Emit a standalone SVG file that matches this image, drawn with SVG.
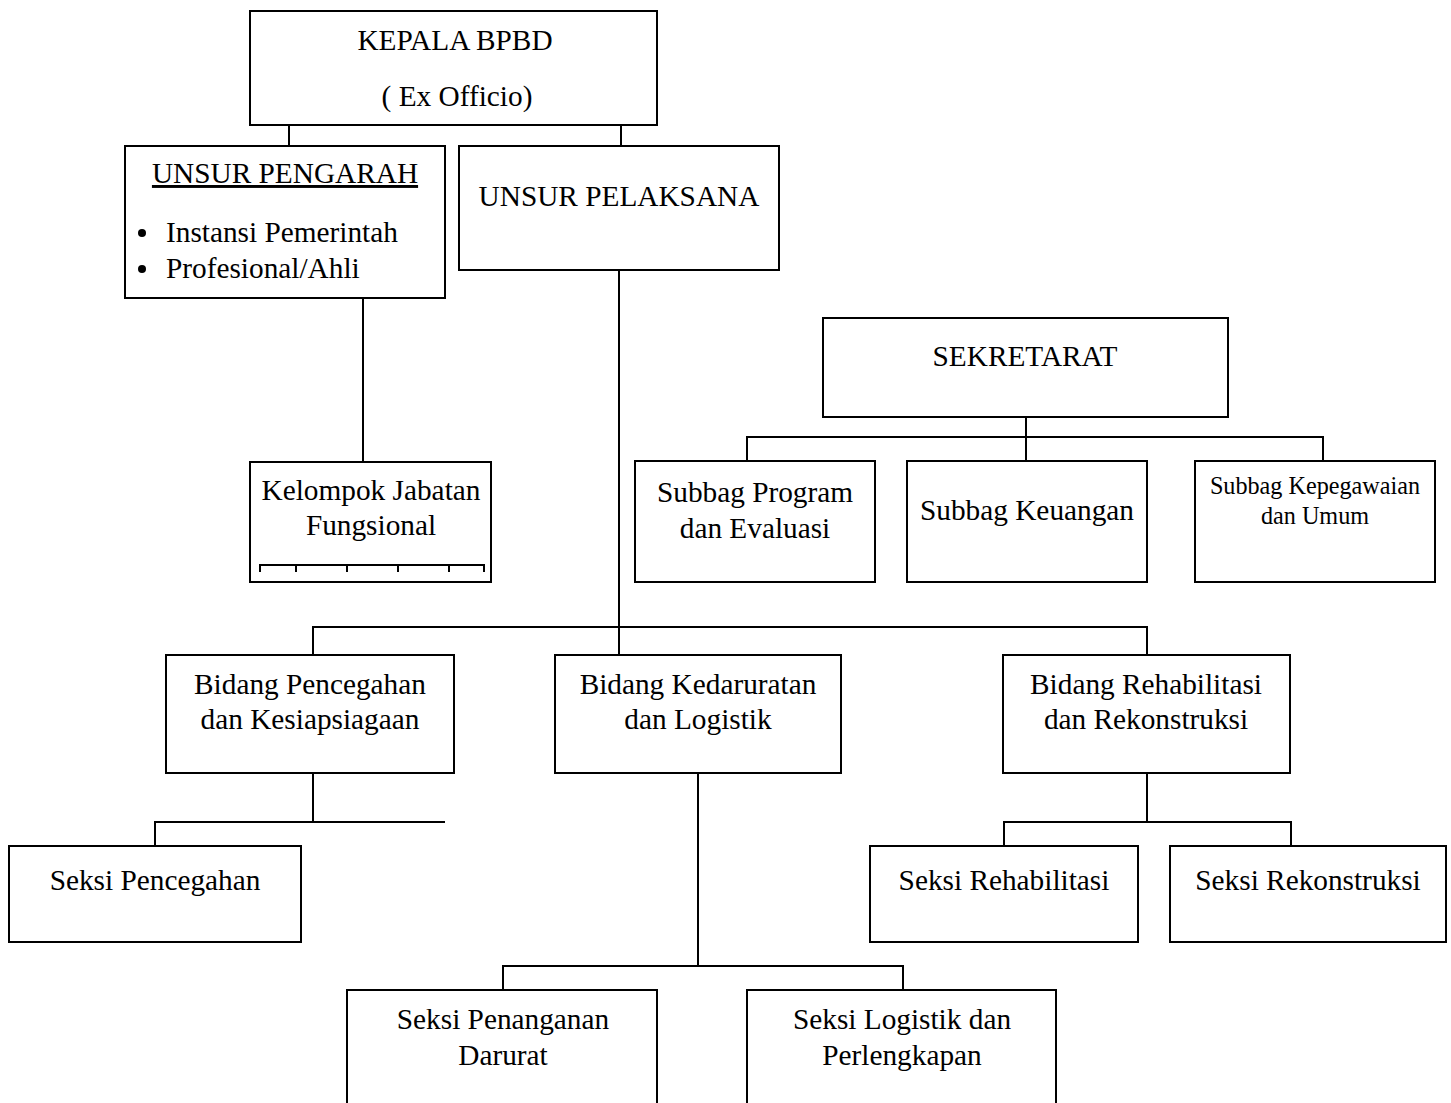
<svg xmlns="http://www.w3.org/2000/svg" width="1451" height="1103" viewBox="0 0 1451 1103">
<style>
.box{fill:#fff;stroke:#000;stroke-width:2}
.ln{fill:none;stroke:#000;stroke-width:2}
text{font-family:"Liberation Serif","Times New Roman",serif;font-size:29.3px;fill:#000;text-anchor:middle}
.sm{font-size:24.2px}
.st{text-anchor:start}
</style>
<rect width="1451" height="1103" fill="#fff"/>
<g id="connectors">
<path class="ln" d="M455 97V125M289 146V125H621V146"/>
<path class="ln" d="M363 298V462"/>
<path class="ln" d="M619 270V655M313 655V627H1147V655"/>
<path class="ln" d="M1026 417V461M747 461V437H1323V461"/>
<path class="ln" d="M313 773V822M155 846V822H445"/>
<path class="ln" d="M698 773V966M503 990V966H903V990"/>
<path class="ln" d="M1147 773V822M1004 846V822H1291V846"/>
</g>
<g id="kepala">
<rect class="box" x="250" y="11" width="407" height="114"/>
<text x="455" y="50">KEPALA BPBD</text>
<text x="457" y="106">( Ex Officio)</text>
</g>
<g id="unsur-pengarah">
<rect class="box" x="125" y="146" width="320" height="152"/>
<text x="285" y="183" text-decoration="underline">UNSUR PENGARAH</text>
<circle cx="142" cy="233" r="4"/>
<circle cx="142" cy="269" r="4"/>
<text class="st" x="166" y="242">Instansi Pemerintah</text>
<text class="st" x="166" y="278">Profesional/Ahli</text>
</g>
<g id="unsur-pelaksana">
<rect class="box" x="459" y="146" width="320" height="124"/>
<text x="619" y="206">UNSUR PELAKSANA</text>
</g>
<g id="kelompok">
<rect class="box" x="250" y="462" width="241" height="120"/>
<text x="371" y="500">Kelompok Jabatan</text>
<text x="371" y="535">Fungsional</text>
<path class="ln" d="M260 572V565H484V572M296 565V572M347 565V572M398 565V572M449 565V572"/>
</g>
<g id="sekretarat">
<rect class="box" x="823" y="318" width="405" height="99"/>
<text x="1025" y="366">SEKRETARAT</text>
</g>
<g id="subbag-program">
<rect class="box" x="635" y="461" width="240" height="121"/>
<text x="755" y="502">Subbag Program</text>
<text x="755" y="538">dan Evaluasi</text>
</g>
<g id="subbag-keuangan">
<rect class="box" x="907" y="461" width="240" height="121"/>
<text x="1027" y="520">Subbag Keuangan</text>
</g>
<g id="subbag-kepegawaian">
<rect class="box" x="1195" y="461" width="240" height="121"/>
<text class="sm" x="1315" y="494">Subbag Kepegawaian</text>
<text class="sm" x="1315" y="524">dan Umum</text>
</g>
<g id="bidang-pencegahan">
<rect class="box" x="166" y="655" width="288" height="118"/>
<text x="310" y="694">Bidang Pencegahan</text>
<text x="310" y="729">dan Kesiapsiagaan</text>
</g>
<g id="bidang-kedaruratan">
<rect class="box" x="555" y="655" width="286" height="118"/>
<text x="698" y="694">Bidang Kedaruratan</text>
<text x="698" y="729">dan Logistik</text>
</g>
<g id="bidang-rehabilitasi">
<rect class="box" x="1003" y="655" width="287" height="118"/>
<text x="1146" y="694">Bidang Rehabilitasi</text>
<text x="1146" y="729">dan Rekonstruksi</text>
</g>
<g id="seksi-pencegahan">
<rect class="box" x="9" y="846" width="292" height="96"/>
<text x="155" y="890">Seksi Pencegahan</text>
</g>
<g id="seksi-rehabilitasi">
<rect class="box" x="870" y="846" width="268" height="96"/>
<text x="1004" y="890">Seksi Rehabilitasi</text>
</g>
<g id="seksi-rekonstruksi">
<rect class="box" x="1170" y="846" width="276" height="96"/>
<text x="1308" y="890">Seksi Rekonstruksi</text>
</g>
<g id="seksi-penanganan">
<rect class="box" x="347" y="990" width="310" height="130"/>
<text x="503" y="1029">Seksi Penanganan</text>
<text x="503" y="1065">Darurat</text>
</g>
<g id="seksi-logistik">
<rect class="box" x="747" y="990" width="309" height="130"/>
<text x="902" y="1029">Seksi Logistik dan</text>
<text x="902" y="1065">Perlengkapan</text>
</g>
</svg>
